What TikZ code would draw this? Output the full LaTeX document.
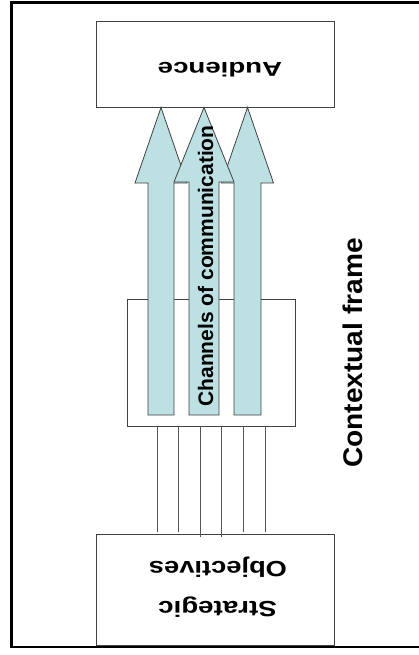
\documentclass[tikz,border=0pt]{standalone}
\usepackage{fontspec}
\setmainfont{Liberation Sans}
\usepackage{graphicx}
\definecolor{arrowfill}{HTML}{BDE0E3}
\definecolor{edgegray}{HTML}{404040}
\definecolor{wiregray}{HTML}{555555}
\begin{document}
\begin{tikzpicture}[x=1pt,y=-1pt,
  box/.style={draw=edgegray,line width=0.9pt,fill=white,inner sep=0pt},
  chan/.style={draw=edgegray,line width=0.8pt,fill=arrowfill,line join=miter},
  wire/.style={draw=wiregray,line width=0.8pt},
  lbl/.style={font=\bfseries,inner sep=0pt}]
\useasboundingbox (0,0) rectangle (419,655);
% outer frame (right side runs off the picture)
\draw[line width=2.6pt] (423,2.8) -- (11.3,2.8) -- (11.3,647) -- (423,647);
% boxes
\node[box,minimum width=238pt,minimum height=86pt] (aud) at (215,64) {};
\node[box,minimum width=168pt,minimum height=127pt] (mid) at (211,362.5) {};
\node[box,minimum width=237.5pt,minimum height=111pt] (obj) at (215.25,589.5) {};
% wires from the middle box to the objectives box
\coordinate (w1) at (157,532);
\coordinate (w2) at (178.5,532);
\coordinate (w3) at (200,537);
\coordinate (w4) at (221.5,537);
\coordinate (w5) at (243,532);
\coordinate (w6) at (265,532);
\foreach \w in {w1,w2,w3,w4,w5,w6}{\draw[wire] (mid.south -| \w) -- (\w);}
% block arrows (channels)
\draw[chan] (148,415) -- (148,183) -- (135,183) -- (aud.south -| 161,0) -- (187,183) -- (174,183) -- (174,415) -- cycle;
\draw[chan] (234,415) -- (234,183) -- (221.5,183) -- (aud.south -| 247.5,0) -- (273.5,183) -- (261,183) -- (261,415) -- cycle;
\draw[chan] (189,415) -- (189,182) -- (174,182) -- (aud.south -| 204,0) -- (234,182) -- (219,182) -- (219,415) -- cycle;
% texts
\node[lbl,rotate=180] (audt) at (220,70) {\fontsize{20}{24}\selectfont\scalebox{1.38}[1]{Audience}};
\node[lbl,rotate=180,anchor=base] (objt) at (218,561) {\fontsize{22}{26}\selectfont\scalebox{1.24}[1]{Objectives}};
\node[lbl,rotate=180,anchor=base] (strt) at (217.5,601) {\fontsize{22}{26}\selectfont\scalebox{1.26}[1]{Strategic}};
\node[lbl,rotate=90] (chant) at (205.5,266) {\fontsize{21}{25}\selectfont Channels of communication};
\node[lbl,rotate=90] (ctx) at (352.5,353) {\fontsize{27}{32}\selectfont\scalebox{1.04}[1]{Contextual frame}};
\end{tikzpicture}
\end{document}
